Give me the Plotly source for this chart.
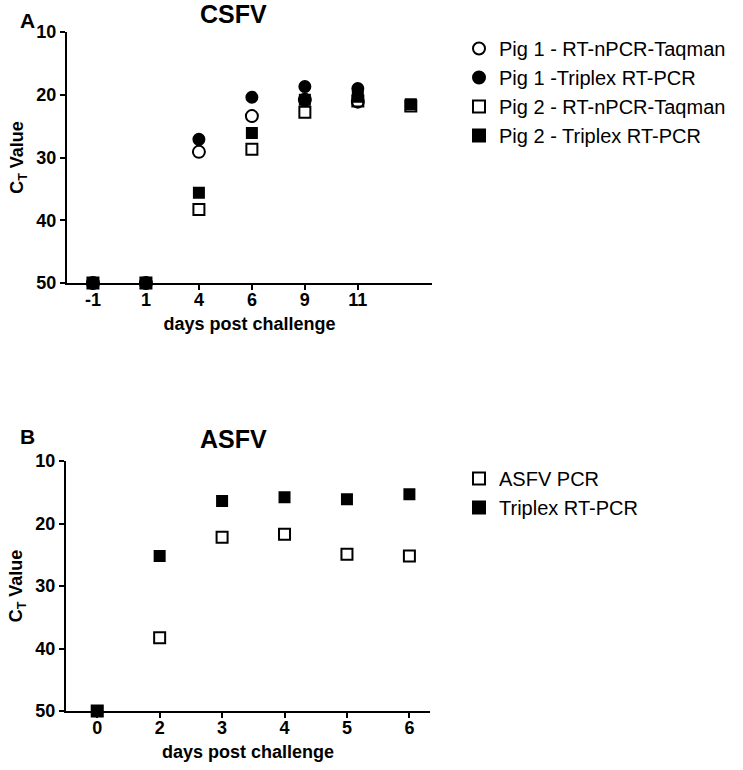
import plotly.graph_objects as go
from plotly.subplots import make_subplots

# DATA======================================================= #
days_a = ["-1", "1", "4", "6", "9", "11", ""]
pig1_taqman = [50, 50, 29.1, 23.4, 20.8, 21.1, None]
pig1_triplex = [50, 50, 27.1, 20.4, 18.7, 19.0, None]
pig2_taqman = [50, 50, 38.3, 28.7, 22.8, 21.0, 21.8]
pig2_triplex = [50, 50, 35.6, 26.1, 20.8, 20.3, 21.5]

days_b = ["0", "2", "3", "4", "5", "6"]
asfv_pcr = [50, 38.3, 22.2, 21.7, 24.9, 25.2]
asfv_triplex = [50, 25.2, 16.4, 15.8, 16.1, 15.3]

y_ticks = [10, 20, 30, 40, 50]

# FIGURE===================================================== #
W, H = 743, 770
fig = make_subplots(rows=2, cols=1)

xa = list(range(len(days_a)))
xb = list(range(len(days_b)))

series_a = [
    ("Pig 1 - RT-nPCR-Taqman", pig1_taqman, "circle-open", 12),
    ("Pig 1 -Triplex RT-PCR", pig1_triplex, "circle", 11),
    ("Pig 2 - RT-nPCR-Taqman", pig2_taqman, "square-open", 11),
    ("Pig 2 - Triplex RT-PCR", pig2_triplex, "square", 10),
]
for name, vals, sym, size in series_a:
    fig.add_trace(go.Scatter(
        x=xa, y=vals, mode="markers", name=name, legend="legend",
        marker=dict(symbol=sym, size=size, color="black", line=dict(color="black", width=2)),
        cliponaxis=False,
    ), row=1, col=1)

series_b = [
    ("ASFV PCR", asfv_pcr, "square-open", 11),
    ("Triplex RT-PCR", asfv_triplex, "square", 10),
]
for name, vals, sym, size in series_b:
    fig.add_trace(go.Scatter(
        x=xb, y=vals, mode="markers", name=name, legend="legend2",
        marker=dict(symbol=sym, size=size, color="black", line=dict(color="black", width=2)),
        cliponaxis=False,
    ), row=2, col=1)

# LAYOUT===================================================== #
bold = dict(family="Liberation Sans", size=18, color="black", weight="bold")
axis_style = dict(
    showline=True, linecolor="black", linewidth=2, showgrid=False, zeroline=False,
    ticks="outside", ticklen=5, tickwidth=2, tickcolor="black", tickfont=bold,
    automargin=False,
)
fig.update_xaxes(axis_style, ticklabelstandoff=-6)
fig.update_yaxes(axis_style)

legend_font = dict(family="Liberation Sans", size=20, color="black")

fig.update_layout(
    width=W, height=H,
    margin=dict(l=0, r=0, t=0, b=0),
    plot_bgcolor="white", paper_bgcolor="white",
    font=dict(family="Liberation Sans", color="black"),
    xaxis=dict(domain=[67 / W, 432 / W], range=[-0.49, 6.4],
               tickvals=xa[:-1], ticktext=days_a[:-1],
               title=dict(text="days post challenge", font=bold, standoff=9)),
    yaxis=dict(domain=[1 - 283 / H, 1 - 32 / H], range=[50, 10], tickvals=y_ticks,
               title=dict(text="C<sub>T</sub> Value", font=bold, standoff=8)),
    xaxis2=dict(domain=[66 / W, 430 / W], range=[-0.5, 5.33],
                tickvals=xb, ticktext=days_b,
                title=dict(text="days post challenge", font=bold, standoff=9)),
    yaxis2=dict(domain=[1 - 711 / H, 1 - 461 / H], range=[50, 10], tickvals=y_ticks,
                title=dict(text="C<sub>T</sub> Value", font=bold, standoff=8)),
    legend=dict(x=459 / W, y=1 - 29 / H, xanchor="left", yanchor="top",
                font=legend_font, itemsizing="constant", tracegroupgap=0,
                bgcolor="rgba(0,0,0,0)"),
    legend2=dict(x=459 / W, y=1 - 459 / H, xanchor="left", yanchor="top",
                 font=legend_font, itemsizing="constant", tracegroupgap=0,
                 bgcolor="rgba(0,0,0,0)"),
)

# panel letters and titles, given in pixels
labels = [("A", 27, 21, 21), ("CSFV", 233, 14, 25), ("B", 27, 436, 21), ("ASFV", 233, 439, 25)]
for text, px, py, size in labels:
    fig.add_annotation(text=text, x=px / W, y=1 - py / H, xref="paper", yref="paper",
                       showarrow=False, xanchor="center", yanchor="middle",
                       font=dict(family="Liberation Sans", size=size, color="black", weight="bold"))

# the page body has a default 8px margin; drop it so the figure sits at the corner
fig.write_html("out.html", config={"displayModeBar": False},
               post_script="document.body.style.margin='0';")
